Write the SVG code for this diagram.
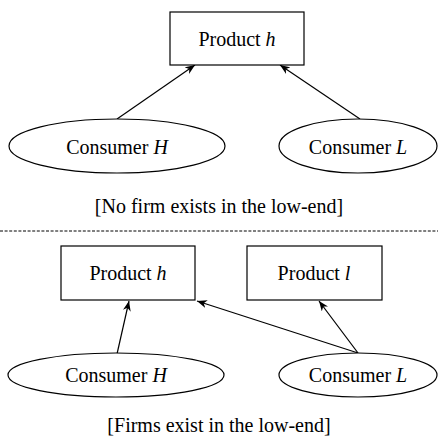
<svg xmlns="http://www.w3.org/2000/svg" width="438" height="444" viewBox="0 0 438 444">
<defs>
<marker id="arr" viewBox="0 0 10 8" refX="10" refY="4" markerWidth="10" markerHeight="8" markerUnits="userSpaceOnUse" orient="auto">
<path d="M0,0 L10,4 L0,8 L3,4 Z" fill="#000"/>
</marker>
</defs>
<style>
text{font-family:"Liberation Serif","Times New Roman",serif;font-size:20px;fill:#000;text-anchor:middle}
.n{fill:#fff;stroke:#000;stroke-width:1.2}
.e{stroke:#000;stroke-width:1.2;fill:none;marker-end:url(#arr)}
i,.it{font-style:italic}
</style>
<rect width="438" height="444" fill="#fff"/>
<g id="connectors">
<line class="e" x1="117" y1="119" x2="195" y2="65"/>
<line class="e" x1="360" y1="119" x2="280" y2="65"/>
<line class="e" x1="117" y1="354" x2="129" y2="301"/>
<line class="e" x1="358" y1="353" x2="197" y2="301"/>
<line class="e" x1="358" y1="353" x2="319" y2="301"/>
</g>
<g id="top-product-h"><rect class="n" x="170" y="12" width="134" height="53"/><text x="237" y="46">Product <tspan class="it">h</tspan></text></g>
<g id="top-consumer-H"><ellipse class="n" cx="117" cy="146" rx="108" ry="27"/><text x="117" y="154">Consumer <tspan class="it">H</tspan></text></g>
<g id="top-consumer-L"><ellipse class="n" cx="358" cy="146" rx="79" ry="27"/><text x="358" y="154">Consumer <tspan class="it">L</tspan></text></g>
<text id="caption-top" x="219" y="213">[No firm exists in the low-end]</text>
<line id="divider" x1="0" y1="231" x2="438" y2="231" stroke="#000" stroke-width="1" stroke-dasharray="3,1.6"/>
<g id="bottom-product-h"><rect class="n" x="61" y="246" width="134" height="54"/><text x="128" y="280">Product <tspan class="it">h</tspan></text></g>
<g id="bottom-product-l"><rect class="n" x="247" y="246" width="135" height="54"/><text x="314" y="280">Product <tspan class="it">l</tspan></text></g>
<g id="bottom-consumer-H"><ellipse class="n" cx="116" cy="375" rx="108" ry="22"/><text x="116" y="382">Consumer <tspan class="it">H</tspan></text></g>
<g id="bottom-consumer-L"><ellipse class="n" cx="358" cy="375" rx="79" ry="22"/><text x="358" y="382">Consumer <tspan class="it">L</tspan></text></g>
<text id="caption-bottom" x="219" y="432">[Firms exist in the low-end]</text>
</svg>
